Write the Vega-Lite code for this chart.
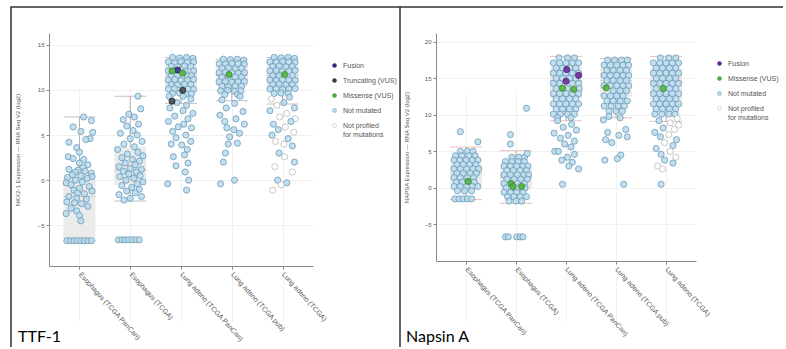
{
"$schema":"https://vega.github.io/schema/vega-lite/v6.json",
"padding":{"left":10,"top":6,"right":0,"bottom":0},
"spacing":0,
"bounds":"flush",
"config":{
 "font":"Liberation Sans",
 "view":{"stroke":null},
 "axis":{"domainColor":"#8a8a8a","tickColor":"#8a8a8a","gridColor":"#ededed","gridWidth":0.8,"labelColor":"#555555","labelFontSize":6,"titleColor":"#555555","titleFontSize":6,"titleFontWeight":"normal","tickSize":3},
 "legend":{"labelFontSize":7,"labelColor":"#555555","symbolType":"circle","symbolSize":16,"rowPadding":7,"padding":0,"labelOffset":5,"symbolStrokeColor":"#bbbbbb","symbolStrokeWidth":0.5}
},
"datasets":{
 "cats":[{"c":"EP","cancer":"Esophagus (TCGA PanCan)"},{"c":"ET","cancer":"Esophagus (TCGA)"},{"c":"LP","cancer":"Lung adeno (TCGA PanCan)"},{"c":"LB","cancer":"Lung adeno (TCGA pub)"},{"c":"LT","cancer":"Lung adeno (TCGA)"}],
 "muts":[{"m":"F","mutation":"Fusion"},{"m":"T","mutation":"Truncating (VUS)"},{"m":"M","mutation":"Missense (VUS)"},{"m":"P","mutation":"Not profiled for mutations"}],
 "tbox":[
  {"cancer":"Esophagus (TCGA PanCan)","lo":-6.7,"q1":-6.7,"med":-1.8,"q3":0.6,"hi":7.0},
  {"cancer":"Esophagus (TCGA)","lo":-2.3,"q1":-0.5,"med":1.1,"q3":3.7,"hi":9.3},
  {"cancer":"Lung adeno (TCGA PanCan)","lo":8.5,"q1":10.3,"med":11.6,"q3":12.7,"hi":13.6},
  {"cancer":"Lung adeno (TCGA pub)","lo":8.8,"q1":10.4,"med":11.6,"q3":12.6,"hi":13.4},
  {"cancer":"Lung adeno (TCGA)","lo":8.45,"q1":10.3,"med":11.6,"q3":12.7,"hi":13.6}],
 "nbox":[
  {"cancer":"Esophagus (TCGA PanCan)","lo":-1.6,"q1":0.6,"med":2.0,"q3":3.3,"hi":5.6},
  {"cancer":"Esophagus (TCGA)","lo":-2.1,"q1":-0.2,"med":1.4,"q3":3.0,"hi":5.1},
  {"cancer":"Lung adeno (TCGA PanCan)","lo":9.2,"q1":12.3,"med":14.7,"q3":16.5,"hi":18.0},
  {"cancer":"Lung adeno (TCGA pub)","lo":9.6,"q1":12.5,"med":14.7,"q3":16.4,"hi":17.7},
  {"cancer":"Lung adeno (TCGA)","lo":9.1,"q1":12.0,"med":14.6,"q3":16.4,"hi":18.0}],
 "ttf":[
  {"c":"EP","v":7.0,"j":0.3},{"c":"EP","v":6.6,"j":0.85},{"c":"EP","v":5.9,"j":-0.45},{"c":"EP","v":5.4,"j":0.1},{"c":"EP","v":5.3,"j":0.95},{"c":"EP","v":4.6,"j":0.75},{"c":"EP","v":4.5,"j":0.45},{"c":"EP","v":4.2,"j":-0.75},{"c":"EP","v":3.6,"j":-0.2},{"c":"EP","v":3.1,"j":0.0},{"c":"EP","v":2.6,"j":-0.8},{"c":"EP","v":2.4,"j":-0.45},{"c":"EP","v":2.3,"j":0.3},{"c":"EP","v":1.9,"j":0.0},{"c":"EP","v":1.7,"j":0.6},{"c":"EP","v":1.4,"j":0.25},{"c":"EP","v":1.2,"j":-0.75},{"c":"EP","v":1.1,"j":-0.1},{"c":"EP","v":1.0,"j":0.4},{"c":"EP","v":0.9,"j":-0.3},{"c":"EP","v":0.8,"j":0.85},{"c":"EP","v":0.6,"j":-0.5},{"c":"EP","v":0.5,"j":0.1},{"c":"EP","v":0.4,"j":0.9},{"c":"EP","v":0.3,"j":-0.85},{"c":"EP","v":0.2,"j":0.55},{"c":"EP","v":0.0,"j":-0.3},{"c":"EP","v":-0.2,"j":0.2},{"c":"EP","v":-0.3,"j":-0.95},{"c":"EP","v":-0.5,"j":-0.6},{"c":"EP","v":-0.7,"j":0.7},{"c":"EP","v":-0.9,"j":0.0},{"c":"EP","v":-1.1,"j":-0.4},{"c":"EP","v":-1.2,"j":0.9},{"c":"EP","v":-1.4,"j":-0.15},{"c":"EP","v":-1.5,"j":0.35},{"c":"EP","v":-1.8,"j":-0.75},{"c":"EP","v":-2.0,"j":-0.2},{"c":"EP","v":-2.1,"j":0.5},{"c":"EP","v":-2.4,"j":-0.9},{"c":"EP","v":-2.5,"j":-0.35},{"c":"EP","v":-2.6,"j":0.15},{"c":"EP","v":-2.9,"j":0.6},{"c":"EP","v":-3.1,"j":-0.6},{"c":"EP","v":-3.4,"j":-0.2},{"c":"EP","v":-3.7,"j":-0.95},{"c":"EP","v":-3.9,"j":0.0},{"c":"EP","v":-4.5,"j":0.1},
  {"c":"EP","v":-6.7,"j":-0.9},{"c":"EP","v":-6.7,"j":-0.65},{"c":"EP","v":-6.7,"j":-0.4},{"c":"EP","v":-6.7,"j":-0.15},{"c":"EP","v":-6.7,"j":0.1},{"c":"EP","v":-6.7,"j":0.35},{"c":"EP","v":-6.7,"j":0.6},{"c":"EP","v":-6.7,"j":0.85},
  {"c":"ET","v":9.3,"j":0.55},{"c":"ET","v":7.9,"j":0.75},{"c":"ET","v":7.3,"j":-0.1},{"c":"ET","v":7.0,"j":0.3},{"c":"ET","v":6.7,"j":-0.5},{"c":"ET","v":6.2,"j":0.6},{"c":"ET","v":6.0,"j":-0.25},{"c":"ET","v":5.5,"j":0.2},{"c":"ET","v":5.2,"j":-0.7},{"c":"ET","v":5.0,"j":0.5},{"c":"ET","v":4.6,"j":0.0},{"c":"ET","v":4.3,"j":0.85},{"c":"ET","v":4.0,"j":-0.45},{"c":"ET","v":3.7,"j":0.3},{"c":"ET","v":3.4,"j":-0.9},{"c":"ET","v":3.1,"j":0.55},{"c":"ET","v":2.9,"j":-0.2},{"c":"ET","v":2.7,"j":0.9},{"c":"ET","v":2.5,"j":-0.6},{"c":"ET","v":2.3,"j":0.15},{"c":"ET","v":2.1,"j":0.65},{"c":"ET","v":1.9,"j":-0.35},{"c":"ET","v":1.7,"j":0.35},{"c":"ET","v":1.5,"j":-0.8},{"c":"ET","v":1.3,"j":0.0},{"c":"ET","v":1.2,"j":0.8},{"c":"ET","v":1.0,"j":-0.5},{"c":"ET","v":0.9,"j":0.45},{"c":"ET","v":0.7,"j":-0.1},{"c":"ET","v":0.5,"j":0.7},{"c":"ET","v":0.4,"j":-0.75},{"c":"ET","v":0.2,"j":0.25},{"c":"ET","v":0.0,"j":-0.3},{"c":"ET","v":-0.2,"j":0.9},{"c":"ET","v":-0.4,"j":0.5},{"c":"ET","v":-0.6,"j":-0.6},{"c":"ET","v":-0.8,"j":0.1},{"c":"ET","v":-1.0,"j":0.65},{"c":"ET","v":-1.2,"j":-0.25},{"c":"ET","v":-1.4,"j":0.35},{"c":"ET","v":-1.6,"j":-0.8},{"c":"ET","v":-1.8,"j":0.8},{"c":"ET","v":-2.0,"j":0.0},{"c":"ET","v":-2.2,"j":-0.45},
  {"c":"ET","v":-6.6,"j":-0.85},{"c":"ET","v":-6.6,"j":-0.6},{"c":"ET","v":-6.6,"j":-0.35},{"c":"ET","v":-6.6,"j":-0.1},{"c":"ET","v":-6.6,"j":0.15},{"c":"ET","v":-6.6,"j":0.4},{"c":"ET","v":-6.6,"j":0.65},
  {"c":"LP","v":13.6,"j":-0.6},{"c":"LP","v":13.55,"j":-0.1},{"c":"LP","v":13.6,"j":0.4},{"c":"LP","v":13.5,"j":0.85},
  {"c":"LP","v":13.1,"j":-0.9},{"c":"LP","v":13.0,"j":-0.45},{"c":"LP","v":13.15,"j":0.0},{"c":"LP","v":13.05,"j":0.45},{"c":"LP","v":13.1,"j":0.9},
  {"c":"LP","v":12.6,"j":-0.7},{"c":"LP","v":12.55,"j":-0.25},{"c":"LP","v":12.65,"j":0.25},{"c":"LP","v":12.6,"j":0.7},
  {"c":"LP","v":12.1,"j":-0.9},{"c":"LP","v":12.05,"j":0.3},{"c":"LP","v":12.1,"j":0.9},
  {"c":"LP","v":11.6,"j":-0.7},{"c":"LP","v":11.65,"j":-0.25},{"c":"LP","v":11.55,"j":0.45},{"c":"LP","v":11.6,"j":0.75},
  {"c":"LP","v":11.1,"j":-0.9},{"c":"LP","v":11.15,"j":-0.45},{"c":"LP","v":11.05,"j":0.0},{"c":"LP","v":11.1,"j":0.45},{"c":"LP","v":11.15,"j":0.9},
  {"c":"LP","v":10.6,"j":-0.7},{"c":"LP","v":10.55,"j":-0.25},{"c":"LP","v":10.65,"j":0.25},{"c":"LP","v":10.6,"j":0.7},
  {"c":"LP","v":10.1,"j":-0.9},{"c":"LP","v":10.15,"j":-0.45},{"c":"LP","v":10.1,"j":0.5},{"c":"LP","v":10.05,"j":0.9},
  {"c":"LP","v":9.6,"j":-0.6},{"c":"LP","v":9.65,"j":-0.1},{"c":"LP","v":9.55,"j":0.35},{"c":"LP","v":9.6,"j":0.75},
  {"c":"LP","v":9.3,"j":-0.85},{"c":"LP","v":9.3,"j":0.15},
  {"c":"LP","v":9.0,"j":0.7},{"c":"LP","v":8.6,"j":-0.3},{"c":"LP","v":8.3,"j":0.4},{"c":"LP","v":8.0,"j":-0.8},{"c":"LP","v":7.7,"j":0.15},{"c":"LP","v":7.4,"j":0.85},{"c":"LP","v":7.1,"j":-0.45},{"c":"LP","v":6.8,"j":0.5},{"c":"LP","v":6.5,"j":-0.9},{"c":"LP","v":6.2,"j":0.2},{"c":"LP","v":5.9,"j":-0.2},{"c":"LP","v":5.8,"j":0.75},{"c":"LP","v":5.4,"j":-0.6},{"c":"LP","v":5.0,"j":0.35},{"c":"LP","v":4.7,"j":-0.35},{"c":"LP","v":4.3,"j":0.7},{"c":"LP","v":4.0,"j":-0.7},{"c":"LP","v":3.9,"j":0.05},{"c":"LP","v":3.4,"j":0.45},{"c":"LP","v":2.8,"j":0.25},{"c":"LP","v":2.6,"j":-0.55},{"c":"LP","v":1.9,"j":0.5},{"c":"LP","v":1.6,"j":-0.35},{"c":"LP","v":0.9,"j":0.3},{"c":"LP","v":0.0,"j":0.55},{"c":"LP","v":-0.4,"j":-0.95},{"c":"LP","v":-1.1,"j":0.4},
  {"c":"LB","v":13.4,"j":-0.6},{"c":"LB","v":13.35,"j":-0.1},{"c":"LB","v":13.4,"j":0.4},{"c":"LB","v":13.3,"j":0.85},
  {"c":"LB","v":12.9,"j":-0.9},{"c":"LB","v":12.85,"j":-0.45},{"c":"LB","v":12.95,"j":0.0},{"c":"LB","v":12.9,"j":0.45},{"c":"LB","v":12.85,"j":0.9},
  {"c":"LB","v":12.4,"j":-0.7},{"c":"LB","v":12.45,"j":-0.25},{"c":"LB","v":12.35,"j":0.25},{"c":"LB","v":12.4,"j":0.7},
  {"c":"LB","v":11.9,"j":-0.9},{"c":"LB","v":11.95,"j":-0.45},{"c":"LB","v":11.9,"j":0.0},{"c":"LB","v":11.85,"j":0.45},{"c":"LB","v":11.9,"j":0.9},
  {"c":"LB","v":11.4,"j":-0.7},{"c":"LB","v":11.35,"j":-0.25},{"c":"LB","v":11.45,"j":0.25},{"c":"LB","v":11.4,"j":0.7},
  {"c":"LB","v":10.9,"j":-0.9},{"c":"LB","v":10.95,"j":-0.45},{"c":"LB","v":10.85,"j":0.0},{"c":"LB","v":10.9,"j":0.45},{"c":"LB","v":10.95,"j":0.9},
  {"c":"LB","v":10.4,"j":-0.7},{"c":"LB","v":10.35,"j":-0.25},{"c":"LB","v":10.45,"j":0.25},{"c":"LB","v":10.4,"j":0.7},
  {"c":"LB","v":9.9,"j":-0.8},{"c":"LB","v":9.95,"j":-0.3},{"c":"LB","v":9.85,"j":0.2},{"c":"LB","v":9.9,"j":0.65},
  {"c":"LB","v":9.5,"j":-0.5},{"c":"LB","v":9.5,"j":0.4},
  {"c":"LB","v":9.3,"j":0.6},{"c":"LB","v":8.9,"j":-0.7},{"c":"LB","v":8.5,"j":0.2},{"c":"LB","v":8.0,"j":-0.4},{"c":"LB","v":7.6,"j":0.8},{"c":"LB","v":7.2,"j":-0.85},{"c":"LB","v":6.8,"j":0.3},{"c":"LB","v":6.5,"j":-0.5},{"c":"LB","v":6.2,"j":0.9},{"c":"LB","v":5.8,"j":-0.35},{"c":"LB","v":5.6,"j":0.15},{"c":"LB","v":5.2,"j":0.55},{"c":"LB","v":4.8,"j":-0.15},{"c":"LB","v":4.1,"j":0.4},{"c":"LB","v":4.0,"j":-0.25},{"c":"LB","v":3.0,"j":-0.45},{"c":"LB","v":2.0,"j":-0.6},{"c":"LB","v":0.0,"j":0.2},{"c":"LB","v":-0.4,"j":-0.8},
  {"c":"LT","v":13.6,"j":-0.6},{"c":"LT","v":13.55,"j":-0.1},{"c":"LT","v":13.6,"j":0.4},{"c":"LT","v":13.5,"j":0.85},
  {"c":"LT","v":13.1,"j":-0.9},{"c":"LT","v":13.05,"j":-0.45},{"c":"LT","v":13.15,"j":0.0},{"c":"LT","v":13.1,"j":0.45},{"c":"LT","v":13.05,"j":0.9},
  {"c":"LT","v":12.6,"j":-0.7},{"c":"LT","v":12.65,"j":-0.25},{"c":"LT","v":12.55,"j":0.25},{"c":"LT","v":12.6,"j":0.7},
  {"c":"LT","v":12.1,"j":-0.9},{"c":"LT","v":12.15,"j":-0.45},{"c":"LT","v":12.05,"j":0.0},{"c":"LT","v":12.1,"j":0.45},{"c":"LT","v":12.15,"j":0.9},
  {"c":"LT","v":11.6,"j":-0.7},{"c":"LT","v":11.55,"j":-0.25},{"c":"LT","v":11.6,"j":0.7},
  {"c":"LT","v":11.1,"j":-0.9},{"c":"LT","v":11.05,"j":-0.45},{"c":"LT","v":11.15,"j":0.0},{"c":"LT","v":11.1,"j":0.45},{"c":"LT","v":11.05,"j":0.9},
  {"c":"LT","v":10.6,"j":-0.7},{"c":"LT","v":10.65,"j":-0.25},{"c":"LT","v":10.55,"j":0.25},{"c":"LT","v":10.6,"j":0.7},
  {"c":"LT","v":10.1,"j":-0.9},{"c":"LT","v":10.15,"j":-0.45},{"c":"LT","v":10.05,"j":0.0},{"c":"LT","v":10.1,"j":0.45},{"c":"LT","v":10.15,"j":0.9},
  {"c":"LT","v":9.6,"j":-0.6},{"c":"LT","v":9.65,"j":-0.1},{"c":"LT","v":9.6,"j":0.4},
  {"c":"LT","v":9.2,"j":0.5},{"c":"LT","v":9.0,"j":-0.8,"m":"P"},{"c":"LT","v":8.6,"j":0.1},{"c":"LT","v":8.3,"j":-0.4,"m":"P"},{"c":"LT","v":8.0,"j":0.85},{"c":"LT","v":7.7,"j":-0.9},{"c":"LT","v":7.4,"j":0.3,"m":"P"},{"c":"LT","v":7.0,"j":-0.2,"m":"P"},{"c":"LT","v":6.8,"j":0.9,"m":"P"},{"c":"LT","v":6.5,"j":0.6},{"c":"LT","v":6.2,"j":-0.65},{"c":"LT","v":5.9,"j":0.2,"m":"P"},{"c":"LT","v":5.6,"j":-0.3},{"c":"LT","v":5.3,"j":0.8,"m":"P"},{"c":"LT","v":5.0,"j":-0.75},{"c":"LT","v":4.6,"j":0.4},{"c":"LT","v":4.3,"j":-0.5,"m":"P"},{"c":"LT","v":4.0,"j":0.1,"m":"P"},{"c":"LT","v":3.8,"j":0.7},{"c":"LT","v":3.0,"j":-0.25},{"c":"LT","v":2.6,"j":0.15,"m":"P"},{"c":"LT","v":2.0,"j":0.85},{"c":"LT","v":1.5,"j":-0.55,"m":"P"},{"c":"LT","v":0.9,"j":0.7,"m":"P"},{"c":"LT","v":0.0,"j":-0.35},{"c":"LT","v":-0.3,"j":0.3},{"c":"LT","v":-0.5,"j":-0.1,"m":"P"},{"c":"LT","v":-1.1,"j":-0.7,"m":"P"},
  {"c":"LP","v":12.2,"j":-0.24,"m":"F"},{"c":"LP","v":12.1,"j":-0.64,"m":"M"},{"c":"LP","v":11.85,"j":0.12,"m":"M"},{"c":"LP","v":9.96,"j":0.12,"m":"T"},{"c":"LP","v":8.75,"j":-0.64,"m":"T"},{"c":"LB","v":11.7,"j":-0.2,"m":"M"},{"c":"LT","v":11.7,"j":0.15,"m":"M"}],
 "nap":[
  {"c":"EP","v":5.0,"j":-0.4},{"c":"EP","v":5.0,"j":0.1},{"c":"EP","v":5.0,"j":0.5},
  {"c":"EP","v":4.4,"j":-0.75},{"c":"EP","v":4.4,"j":-0.3},{"c":"EP","v":4.4,"j":0.2},{"c":"EP","v":4.4,"j":0.65},
  {"c":"EP","v":3.8,"j":-0.85},{"c":"EP","v":3.8,"j":-0.45},{"c":"EP","v":3.8,"j":0.0},{"c":"EP","v":3.8,"j":0.45},{"c":"EP","v":3.8,"j":0.85},
  {"c":"EP","v":3.2,"j":-0.65},{"c":"EP","v":3.2,"j":-0.2},{"c":"EP","v":3.2,"j":0.25},{"c":"EP","v":3.2,"j":0.7},
  {"c":"EP","v":2.6,"j":-0.85},{"c":"EP","v":2.6,"j":-0.4},{"c":"EP","v":2.6,"j":0.05},{"c":"EP","v":2.6,"j":0.5},{"c":"EP","v":2.6,"j":0.9},
  {"c":"EP","v":2.0,"j":-0.65},{"c":"EP","v":2.0,"j":-0.2},{"c":"EP","v":2.0,"j":0.3},{"c":"EP","v":2.0,"j":0.75},
  {"c":"EP","v":1.4,"j":-0.85},{"c":"EP","v":1.4,"j":-0.4},{"c":"EP","v":1.4,"j":0.1},{"c":"EP","v":1.4,"j":0.55},
  {"c":"EP","v":0.8,"j":-0.7},{"c":"EP","v":0.8,"j":-0.25},{"c":"EP","v":0.8,"j":0.6},
  {"c":"EP","v":0.2,"j":-0.85},{"c":"EP","v":0.2,"j":-0.4},{"c":"EP","v":0.2,"j":0.05},{"c":"EP","v":0.2,"j":0.45},{"c":"EP","v":0.2,"j":0.85},
  {"c":"EP","v":-0.4,"j":-0.6},{"c":"EP","v":-0.4,"j":-0.1},{"c":"EP","v":-0.4,"j":0.4},
  {"c":"EP","v":-1.5,"j":-0.8},{"c":"EP","v":-1.5,"j":-0.5},{"c":"EP","v":-1.5,"j":-0.2},{"c":"EP","v":-1.5,"j":0.1},{"c":"EP","v":-1.5,"j":0.4},
  {"c":"EP","v":7.7,"j":-0.4},{"c":"EP","v":6.3,"j":0.85},
  {"c":"ET","v":4.2,"j":-0.3},{"c":"ET","v":4.2,"j":0.2},{"c":"ET","v":4.2,"j":0.6},
  {"c":"ET","v":3.6,"j":-0.75},{"c":"ET","v":3.6,"j":-0.3},{"c":"ET","v":3.6,"j":0.15},{"c":"ET","v":3.6,"j":0.6},
  {"c":"ET","v":3.0,"j":-0.85},{"c":"ET","v":3.0,"j":-0.4},{"c":"ET","v":3.0,"j":0.05},{"c":"ET","v":3.0,"j":0.5},{"c":"ET","v":3.0,"j":0.85},
  {"c":"ET","v":2.4,"j":-0.65},{"c":"ET","v":2.4,"j":-0.2},{"c":"ET","v":2.4,"j":0.3},{"c":"ET","v":2.4,"j":0.75},
  {"c":"ET","v":1.8,"j":-0.85},{"c":"ET","v":1.8,"j":-0.4},{"c":"ET","v":1.8,"j":0.1},{"c":"ET","v":1.8,"j":0.55},{"c":"ET","v":1.8,"j":0.9},
  {"c":"ET","v":1.2,"j":-0.65},{"c":"ET","v":1.2,"j":-0.15},{"c":"ET","v":1.2,"j":0.35},{"c":"ET","v":1.2,"j":0.8},
  {"c":"ET","v":0.6,"j":-0.85},{"c":"ET","v":0.6,"j":0.1},{"c":"ET","v":0.6,"j":0.6},
  {"c":"ET","v":0.0,"j":-0.7},{"c":"ET","v":0.0,"j":-0.3},{"c":"ET","v":0.0,"j":0.1},{"c":"ET","v":0.0,"j":0.65},
  {"c":"ET","v":-0.6,"j":-0.85},{"c":"ET","v":-0.6,"j":-0.4},{"c":"ET","v":-0.6,"j":0.05},{"c":"ET","v":-0.6,"j":0.5},
  {"c":"ET","v":-1.2,"j":-0.6},{"c":"ET","v":-1.2,"j":-0.15},{"c":"ET","v":-1.2,"j":0.3},{"c":"ET","v":-1.2,"j":0.75},
  {"c":"ET","v":-1.8,"j":-0.5},{"c":"ET","v":-1.8,"j":0.0},{"c":"ET","v":-1.8,"j":0.4},
  {"c":"ET","v":10.9,"j":0.75},{"c":"ET","v":7.3,"j":-0.4},{"c":"ET","v":6.0,"j":-0.4},{"c":"ET","v":4.7,"j":0.8},
  {"c":"ET","v":-6.7,"j":-0.75},{"c":"ET","v":-6.7,"j":-0.55},{"c":"ET","v":-6.7,"j":0.05},{"c":"ET","v":-6.7,"j":0.3},{"c":"ET","v":-6.7,"j":0.5},
  {"c":"LP","v":17.8,"j":-0.5},{"c":"LP","v":17.8,"j":0.1},{"c":"LP","v":17.8,"j":0.6},
  {"c":"LP","v":17.1,"j":-0.9},{"c":"LP","v":17.1,"j":-0.45},{"c":"LP","v":17.1,"j":0.0},{"c":"LP","v":17.1,"j":0.45},{"c":"LP","v":17.1,"j":0.9},
  {"c":"LP","v":16.4,"j":-0.7},{"c":"LP","v":16.4,"j":-0.25},{"c":"LP","v":16.4,"j":0.25},{"c":"LP","v":16.4,"j":0.7},
  {"c":"LP","v":15.7,"j":-0.9},{"c":"LP","v":15.7,"j":-0.45},{"c":"LP","v":15.7,"j":0.0},{"c":"LP","v":15.7,"j":0.45},{"c":"LP","v":15.7,"j":0.9},
  {"c":"LP","v":15.0,"j":-0.7},{"c":"LP","v":15.0,"j":-0.25},{"c":"LP","v":15.0,"j":0.25},{"c":"LP","v":15.0,"j":0.7},
  {"c":"LP","v":14.3,"j":-0.9},{"c":"LP","v":14.3,"j":-0.45},{"c":"LP","v":14.3,"j":0.45},{"c":"LP","v":14.3,"j":0.9},
  {"c":"LP","v":13.6,"j":-0.7},{"c":"LP","v":13.6,"j":0.1},{"c":"LP","v":13.6,"j":0.95},
  {"c":"LP","v":12.9,"j":-0.9},{"c":"LP","v":12.9,"j":-0.45},{"c":"LP","v":12.9,"j":0.0},{"c":"LP","v":12.9,"j":0.45},{"c":"LP","v":12.9,"j":0.9},
  {"c":"LP","v":12.2,"j":-0.7},{"c":"LP","v":12.2,"j":-0.25},{"c":"LP","v":12.2,"j":0.25},{"c":"LP","v":12.2,"j":0.7},
  {"c":"LP","v":11.5,"j":-0.9},{"c":"LP","v":11.5,"j":-0.45},{"c":"LP","v":11.5,"j":0.0},{"c":"LP","v":11.5,"j":0.45},{"c":"LP","v":11.5,"j":0.9},
  {"c":"LP","v":10.8,"j":-0.7},{"c":"LP","v":10.8,"j":-0.25},{"c":"LP","v":10.8,"j":0.25},{"c":"LP","v":10.8,"j":0.7},
  {"c":"LP","v":10.1,"j":-0.9},{"c":"LP","v":10.1,"j":-0.4},{"c":"LP","v":10.1,"j":0.1},{"c":"LP","v":10.1,"j":0.6},
  {"c":"LP","v":9.6,"j":-0.6},{"c":"LP","v":9.6,"j":0.35},
  {"c":"LP","v":9.2,"j":-0.6},{"c":"LP","v":8.7,"j":0.4},{"c":"LP","v":8.3,"j":-0.2},{"c":"LP","v":7.9,"j":0.75},{"c":"LP","v":7.5,"j":-0.85},{"c":"LP","v":7.2,"j":0.15},{"c":"LP","v":6.8,"j":-0.4},{"c":"LP","v":6.4,"j":0.6},{"c":"LP","v":6.0,"j":-0.1},{"c":"LP","v":5.6,"j":0.35},{"c":"LP","v":5.0,"j":-0.8},{"c":"LP","v":5.0,"j":-0.55},{"c":"LP","v":4.6,"j":0.6},{"c":"LP","v":4.2,"j":0.1},{"c":"LP","v":3.8,"j":-0.3},{"c":"LP","v":3.5,"j":0.45},{"c":"LP","v":3.0,"j":0.2},{"c":"LP","v":2.6,"j":0.9},{"c":"LP","v":0.5,"j":-0.25},
  {"c":"LB","v":17.5,"j":-0.6},{"c":"LB","v":17.5,"j":-0.1},{"c":"LB","v":17.5,"j":0.4},{"c":"LB","v":17.5,"j":0.8},
  {"c":"LB","v":16.8,"j":-0.85},{"c":"LB","v":16.8,"j":-0.4},{"c":"LB","v":16.8,"j":0.05},{"c":"LB","v":16.8,"j":0.5},{"c":"LB","v":16.8,"j":0.9},
  {"c":"LB","v":16.1,"j":-0.65},{"c":"LB","v":16.1,"j":-0.2},{"c":"LB","v":16.1,"j":0.3},{"c":"LB","v":16.1,"j":0.75},
  {"c":"LB","v":15.4,"j":-0.85},{"c":"LB","v":15.4,"j":-0.4},{"c":"LB","v":15.4,"j":0.05},{"c":"LB","v":15.4,"j":0.5},{"c":"LB","v":15.4,"j":0.9},
  {"c":"LB","v":14.7,"j":-0.65},{"c":"LB","v":14.7,"j":-0.2},{"c":"LB","v":14.7,"j":0.3},{"c":"LB","v":14.7,"j":0.75},
  {"c":"LB","v":14.0,"j":-0.85},{"c":"LB","v":14.0,"j":-0.4},{"c":"LB","v":14.0,"j":0.05},{"c":"LB","v":14.0,"j":0.5},{"c":"LB","v":14.0,"j":0.9},
  {"c":"LB","v":13.3,"j":-0.2},{"c":"LB","v":13.3,"j":0.3},{"c":"LB","v":13.3,"j":0.75},
  {"c":"LB","v":12.6,"j":-0.85},{"c":"LB","v":12.6,"j":-0.4},{"c":"LB","v":12.6,"j":0.05},{"c":"LB","v":12.6,"j":0.5},
  {"c":"LB","v":11.9,"j":-0.65},{"c":"LB","v":11.9,"j":-0.2},{"c":"LB","v":11.9,"j":0.3},{"c":"LB","v":11.9,"j":0.8},
  {"c":"LB","v":11.2,"j":-0.85},{"c":"LB","v":11.2,"j":-0.35},{"c":"LB","v":11.2,"j":0.15},{"c":"LB","v":11.2,"j":0.6},
  {"c":"LB","v":10.5,"j":-0.5},{"c":"LB","v":10.5,"j":0.0},{"c":"LB","v":10.5,"j":0.45},
  {"c":"LB","v":9.8,"j":-0.5},{"c":"LB","v":9.6,"j":0.3},{"c":"LB","v":9.3,"j":-0.9},{"c":"LB","v":8.0,"j":0.7},{"c":"LB","v":7.6,"j":-0.6},{"c":"LB","v":7.2,"j":0.2},{"c":"LB","v":7.0,"j":0.8},{"c":"LB","v":6.6,"j":-0.75},{"c":"LB","v":6.2,"j":-0.3},{"c":"LB","v":4.5,"j":0.35},{"c":"LB","v":4.0,"j":0.1},{"c":"LB","v":3.8,"j":-0.8},{"c":"LB","v":0.5,"j":0.55},
  {"c":"LT","v":17.8,"j":-0.4},{"c":"LT","v":17.8,"j":0.2},{"c":"LT","v":17.8,"j":0.7},
  {"c":"LT","v":17.1,"j":-0.9},{"c":"LT","v":17.1,"j":-0.45},{"c":"LT","v":17.1,"j":0.0},{"c":"LT","v":17.1,"j":0.45},{"c":"LT","v":17.1,"j":0.9},
  {"c":"LT","v":16.4,"j":-0.7},{"c":"LT","v":16.4,"j":-0.25},{"c":"LT","v":16.4,"j":0.25},{"c":"LT","v":16.4,"j":0.7},
  {"c":"LT","v":15.7,"j":-0.9},{"c":"LT","v":15.7,"j":-0.45},{"c":"LT","v":15.7,"j":0.0},{"c":"LT","v":15.7,"j":0.45},{"c":"LT","v":15.7,"j":0.9},
  {"c":"LT","v":15.0,"j":-0.7},{"c":"LT","v":15.0,"j":-0.25},{"c":"LT","v":15.0,"j":0.25},{"c":"LT","v":15.0,"j":0.7},
  {"c":"LT","v":14.3,"j":-0.9},{"c":"LT","v":14.3,"j":-0.45},{"c":"LT","v":14.3,"j":0.0},{"c":"LT","v":14.3,"j":0.45},{"c":"LT","v":14.3,"j":0.9},
  {"c":"LT","v":13.6,"j":-0.7},{"c":"LT","v":13.6,"j":0.25},{"c":"LT","v":13.6,"j":0.7},
  {"c":"LT","v":12.9,"j":-0.9},{"c":"LT","v":12.9,"j":-0.45},{"c":"LT","v":12.9,"j":0.0},{"c":"LT","v":12.9,"j":0.45},{"c":"LT","v":12.9,"j":0.9},
  {"c":"LT","v":12.2,"j":-0.7},{"c":"LT","v":12.2,"j":-0.25},{"c":"LT","v":12.2,"j":0.25},{"c":"LT","v":12.2,"j":0.7},
  {"c":"LT","v":11.5,"j":-0.9},{"c":"LT","v":11.5,"j":-0.45},{"c":"LT","v":11.5,"j":0.0},{"c":"LT","v":11.5,"j":0.45},{"c":"LT","v":11.5,"j":0.9},
  {"c":"LT","v":10.8,"j":-0.7},{"c":"LT","v":10.8,"j":-0.25},{"c":"LT","v":10.8,"j":0.25},{"c":"LT","v":10.8,"j":0.7},
  {"c":"LT","v":10.1,"j":-0.8},{"c":"LT","v":10.1,"j":-0.3},{"c":"LT","v":10.1,"j":0.2},{"c":"LT","v":10.1,"j":0.65},
  {"c":"LT","v":9.5,"j":0.8,"m":"P"},{"c":"LT","v":9.2,"j":-0.5},{"c":"LT","v":8.9,"j":0.3,"m":"P"},{"c":"LT","v":8.6,"j":0.9,"m":"P"},{"c":"LT","v":8.2,"j":-0.2},{"c":"LT","v":8.0,"j":0.6,"m":"P"},{"c":"LT","v":7.6,"j":-0.8},{"c":"LT","v":7.3,"j":0.2,"m":"P"},{"c":"LT","v":7.0,"j":-0.4},{"c":"LT","v":6.6,"j":0.75},{"c":"LT","v":6.2,"j":-0.1,"m":"P"},{"c":"LT","v":5.8,"j":0.5},{"c":"LT","v":5.4,"j":-0.7},{"c":"LT","v":5.0,"j":0.3,"m":"P"},{"c":"LT","v":4.6,"j":-0.35},{"c":"LT","v":4.2,"j":0.7,"m":"P"},{"c":"LT","v":3.8,"j":-0.1},{"c":"LT","v":3.4,"j":0.5},{"c":"LT","v":3.0,"j":-0.6,"m":"P"},{"c":"LT","v":2.6,"j":-0.25,"m":"P"},{"c":"LT","v":0.5,"j":-0.35},
  {"c":"EP","v":0.9,"j":0.15,"m":"M"},{"c":"ET","v":0.6,"j":-0.35,"m":"M"},{"c":"ET","v":0.2,"j":-0.2,"m":"M"},{"c":"ET","v":0.2,"j":0.4,"m":"M"},
  {"c":"LP","v":16.2,"j":0.05,"m":"F"},{"c":"LP","v":15.4,"j":0.9,"m":"F"},{"c":"LP","v":14.6,"j":0.0,"m":"F"},{"c":"LP","v":13.65,"j":-0.25,"m":"M"},{"c":"LP","v":13.5,"j":0.55,"m":"M"},{"c":"LB","v":13.7,"j":-0.7,"m":"M"},{"c":"LT","v":13.6,"j":-0.2,"m":"M"}]
},
"resolve":{"scale":{"fill":"independent","stroke":"independent"}},
"hconcat":[
 {
  "width":389,"height":340,
  "view":{"stroke":"#333333","strokeWidth":1.5,"strokeDash":[729,389,340]},
  "title":{"text":"TTF-1","orient":"bottom","anchor":"start","frame":"group","offset":-5,"dx":7,"baseline":"alphabetic","fontSize":16,"font":"Lato","fontWeight":"normal","color":"#000000"},
  "encoding":{"x":{"field":"cancer","type":"nominal","title":null,
    "scale":{"type":"point","domain":["Esophagus (TCGA PanCan)","Esophagus (TCGA)","Lung adeno (TCGA PanCan)","Lung adeno (TCGA pub)","Lung adeno (TCGA)"],"range":[38,302],"padding":0.6},
    "axis":{"orient":"bottom","offset":-81,"grid":true,"labelAngle":48,"labelAlign":"left","labelBaseline":"middle","labelPadding":4,"labelFontSize":7,"labelLimit":200}}},
  "layer":[
   {"data":{"name":"tbox"},"mark":{"type":"rule","color":"#b0b0b0","strokeWidth":1},
    "encoding":{"y":{"field":"lo","type":"quantitative","title":"NKX2-1 Expression — RNA Seq V2 (log2)","scale":{"domain":[-9.5,16.3],"range":[259,26],"nice":false,"zero":false},
      "axis":{"orient":"left","offset":-38,"values":[-5,0,5,10,15],"grid":true,"titlePadding":17}},"y2":{"field":"hi"}}},
   {"data":{"name":"tbox"},"mark":{"type":"bar","width":32,"color":"#ebebeb"},
    "encoding":{"y":{"field":"q1","type":"quantitative","title":"NKX2-1 Expression — RNA Seq V2 (log2)","scale":{"domain":[-9.5,16.3],"range":[259,26],"nice":false,"zero":false}},"y2":{"field":"q3"}}},
   {"data":{"name":"tbox"},"mark":{"type":"tick","size":32,"thickness":1,"color":"#a8a8a8"},
    "encoding":{"y":{"field":"lo","type":"quantitative","title":"NKX2-1 Expression — RNA Seq V2 (log2)","scale":{"domain":[-9.5,16.3],"range":[259,26],"nice":false,"zero":false}}}},
   {"data":{"name":"tbox"},"mark":{"type":"tick","size":32,"thickness":1,"color":"#a8a8a8"},
    "encoding":{"y":{"field":"hi","type":"quantitative","title":"NKX2-1 Expression — RNA Seq V2 (log2)","scale":{"domain":[-9.5,16.3],"range":[259,26],"nice":false,"zero":false}}}},
   {"data":{"name":"tbox"},"mark":{"type":"tick","size":32,"thickness":1,"color":"#bdbdbd"},
    "encoding":{"y":{"field":"med","type":"quantitative","title":"NKX2-1 Expression — RNA Seq V2 (log2)","scale":{"domain":[-9.5,16.3],"range":[259,26],"nice":false,"zero":false}}}},
   {"data":{"name":"ttf"},
    "transform":[{"lookup":"c","from":{"data":{"name":"cats"},"key":"c","fields":["cancer"]}},{"lookup":"m","from":{"data":{"name":"muts"},"key":"m","fields":["mutation"]},"default":"Not mutated"}],
    "mark":{"type":"circle","size":38,"strokeWidth":0.8,"fillOpacity":0.88,"opacity":1},
    "encoding":{
     "y":{"field":"v","type":"quantitative","title":"NKX2-1 Expression — RNA Seq V2 (log2)","scale":{"domain":[-9.5,16.3],"range":[259,26],"nice":false,"zero":false}},
     "xOffset":{"field":"j","type":"quantitative","scale":{"domain":[-1,1],"range":[-14,14]}},
     "fill":{"field":"mutation","type":"nominal","scale":{"domain":["Fusion","Truncating (VUS)","Missense (VUS)","Not mutated","Not profiled for mutations"],"range":["#3b2a86","#34454f","#4cb33a","#bcdbeb","#ffffff"]},
       "legend":{"orient":"none","legendX":320,"legendY":55,"title":null,"labelExpr":"datum.label == 'Not profiled for mutations' ? ['Not profiled', 'for mutations'] : datum.label"}},
     "stroke":{"field":"mutation","type":"nominal","scale":{"domain":["Fusion","Truncating (VUS)","Missense (VUS)","Not mutated","Not profiled for mutations"],"range":["#2a1d60","#222222","#3a8a2c","#6a9bba","#b9b9b9"]},"legend":null}
    }}
  ]
 },
 {
  "width":383,"height":340,
  "view":{"stroke":"#333333","strokeWidth":1.5,"strokeDash":[383,3000]},
  "title":{"text":"Napsin A","orient":"bottom","anchor":"start","frame":"group","offset":-5,"dx":6,"baseline":"alphabetic","fontSize":16,"font":"Lato","fontWeight":"normal","color":"#000000"},
  "encoding":{"x":{"field":"cancer","type":"nominal","title":null,
    "scale":{"type":"point","domain":["Esophagus (TCGA PanCan)","Esophagus (TCGA)","Lung adeno (TCGA PanCan)","Lung adeno (TCGA pub)","Lung adeno (TCGA)"],"range":[36,296],"padding":0.6},
    "axis":{"orient":"bottom","offset":-86,"grid":true,"labelAngle":48,"labelAlign":"left","labelBaseline":"middle","labelPadding":4,"labelFontSize":7,"labelLimit":200}}},
  "layer":[
   {"data":{"name":"nbox"},"mark":{"type":"rule","color":"#b0b0b0","strokeWidth":1},
    "encoding":{"y":{"field":"lo","type":"quantitative","title":"NAPSA Expression — RNA Seq V2 (log2)","scale":{"domain":[-10,21.2],"range":[254,26],"nice":false,"zero":false},
      "axis":{"orient":"left","offset":-36,"values":[-5,0,5,10,15,20],"grid":true,"titlePadding":15}},"y2":{"field":"hi"}}},
   {"data":{"name":"nbox"},"mark":{"type":"bar","width":32,"color":"#ebebeb"},
    "encoding":{"y":{"field":"q1","type":"quantitative","title":"NAPSA Expression — RNA Seq V2 (log2)","scale":{"domain":[-10,21.2],"range":[254,26],"nice":false,"zero":false}},"y2":{"field":"q3"}}},
   {"data":{"name":"nbox"},"mark":{"type":"tick","size":32,"thickness":1,"color":"#e3a3a3"},
    "encoding":{"y":{"field":"lo","type":"quantitative","title":"NAPSA Expression — RNA Seq V2 (log2)","scale":{"domain":[-10,21.2],"range":[254,26],"nice":false,"zero":false}}}},
   {"data":{"name":"nbox"},"mark":{"type":"tick","size":32,"thickness":1,"color":"#e3a3a3"},
    "encoding":{"y":{"field":"hi","type":"quantitative","title":"NAPSA Expression — RNA Seq V2 (log2)","scale":{"domain":[-10,21.2],"range":[254,26],"nice":false,"zero":false}}}},
   {"data":{"name":"nbox"},"mark":{"type":"tick","size":32,"thickness":1,"color":"#c4c4c4"},
    "encoding":{"y":{"field":"med","type":"quantitative","title":"NAPSA Expression — RNA Seq V2 (log2)","scale":{"domain":[-10,21.2],"range":[254,26],"nice":false,"zero":false}}}},
   {"data":{"name":"nap"},
    "transform":[{"lookup":"c","from":{"data":{"name":"cats"},"key":"c","fields":["cancer"]}},{"lookup":"m","from":{"data":{"name":"muts"},"key":"m","fields":["mutation"]},"default":"Not mutated"}],
    "mark":{"type":"circle","size":38,"strokeWidth":0.8,"fillOpacity":0.88,"opacity":1},
    "encoding":{
     "y":{"field":"v","type":"quantitative","title":"NAPSA Expression — RNA Seq V2 (log2)","scale":{"domain":[-10,21.2],"range":[254,26],"nice":false,"zero":false}},
     "xOffset":{"field":"j","type":"quantitative","scale":{"domain":[-1,1],"range":[-14,14]}},
     "fill":{"field":"mutation","type":"nominal","scale":{"domain":["Fusion","Missense (VUS)","Not mutated","Not profiled for mutations"],"range":["#6a2a9e","#4cb33a","#bcdbeb","#ffffff"]},
       "legend":{"orient":"none","legendX":316,"legendY":53,"title":null,"labelExpr":"datum.label == 'Not profiled for mutations' ? ['Not profiled', 'for mutations'] : datum.label"}},
     "stroke":{"field":"mutation","type":"nominal","scale":{"domain":["Fusion","Missense (VUS)","Not mutated","Not profiled for mutations"],"range":["#4a1a70","#3a8a2c","#6a9bba","#b9b9b9"]},"legend":null}
    }}
  ]
 }
]
}
